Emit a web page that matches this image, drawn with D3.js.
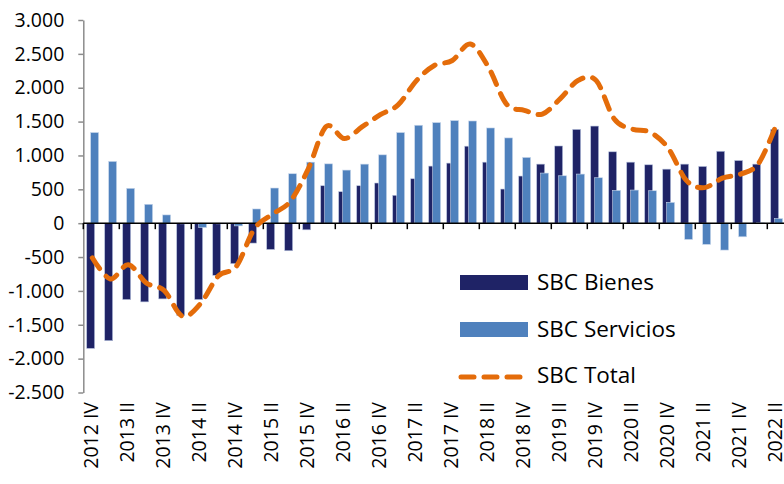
<!DOCTYPE html>
<html>
<head>
<meta charset="utf-8">
<script src="https://cdn.jsdelivr.net/npm/d3@7"></script>
<style>
  body { margin: 0; background: #fff; }
  text { font-family: "Open Sans", "Noto Sans", sans-serif; fill: #000; }
</style>
</head>
<body>
<svg id="chart" width="784" height="484"></svg>
<script>
// quarters shown on the x axis (only II and IV get a label)
const quarters = [
  "2012 IV",
  "2013 I", "2013 II", "2013 III", "2013 IV",
  "2014 I", "2014 II", "2014 III", "2014 IV",
  "2015 I", "2015 II", "2015 III", "2015 IV",
  "2016 I", "2016 II", "2016 III", "2016 IV",
  "2017 I", "2017 II", "2017 III", "2017 IV",
  "2018 I", "2018 II", "2018 III", "2018 IV",
  "2019 I", "2019 II", "2019 III", "2019 IV",
  "2020 I", "2020 II", "2020 III", "2020 IV",
  "2021 I", "2021 II", "2021 III", "2021 IV",
  "2022 I", "2022 II"
];

const bienes = [
  -1849, -1735, -1128, -1162, -1118, -1363, -1128, -770, -598, -294,
  -388, -407, -98, 553, 465, 553, 593, 412, 656, 843,
  887, 1137, 901, 504, 696, 872, 1140, 1385, 1434, 1054,
  901, 862, 798, 872, 838, 1062, 925, 872, 1385
];

const servicios = [
  1338, 912, 515, 279, 122, -10, -64, -10, -40, 210,
  519, 730, 901, 876, 784, 872, 1009, 1338, 1446, 1485,
  1515, 1509, 1406, 1259, 971, 740, 700, 725, 671, 484,
  489, 479, 307, -240, -313, -397, -201, 5, 68
];

const total = [
  -511, -823, -613, -883, -996, -1373, -1192, -780, -638, -84,
  131, 323, 803, 1429, 1249, 1425, 1602, 1750, 2102, 2328,
  2402, 2646, 2307, 1763, 1667, 1612, 1840, 2110, 2105, 1538,
  1390, 1341, 1105, 632, 525, 665, 724, 877, 1453
];

const yTicks = [-2500, -2000, -1500, -1000, -500, 0, 500, 1000, 1500, 2000, 2500, 3000];

const seriesNames = ["SBC Bienes", "SBC Servicios", "SBC Total"];
const colBienes = "#1f2366";
const colServicios = "#4f81bd";
const colTotal = "#e46c0a";

const svg = d3.select("#chart");

// spanish number format: 3.000, -2.500
const es = d3.formatLocale({ decimal: ",", thousands: ".", grouping: [3], currency: ["", ""], minus: "-" });
const fmt = es.format(",");

const left = 83.3, bandW = 18;
const x = d3.scaleBand()
  .domain(quarters)
  .range([left, left + bandW * quarters.length])
  .padding(0);

const y = d3.scaleLinear()
  .domain([-2500, 3000])
  .range([392.5, 20]);

// y axis (grey line, ticks to the left)
const yAxis = svg.append("g").attr("transform", `translate(${left},0)`)
  .call(d3.axisLeft(y).tickValues(yTicks).tickSize(5).tickSizeOuter(0).tickFormat(fmt));
yAxis.select(".domain").attr("stroke", "#8c8c8c").attr("stroke-width", 1.5);
yAxis.selectAll(".tick line").attr("stroke", "#8c8c8c").attr("stroke-width", 1.5);
yAxis.selectAll(".tick text")
  .attr("x", -19)
  .attr("font-size", 19.5)
  .attr("font-family", "Open Sans");

// bars
const bw = bandW * 0.44;
svg.append("g").selectAll("rect")
  .data(bienes)
  .join("rect")
  .attr("x", (d, i) => x(quarters[i]) + bandW * 0.19)
  .attr("width", bw)
  .attr("y", d => y(Math.max(0, d)))
  .attr("height", d => Math.abs(y(d) - y(0)))
  .attr("fill", colBienes)
  .attr("stroke", "#b8c4df")
  .attr("stroke-width", 0.6);

svg.append("g").selectAll("rect")
  .data(servicios)
  .join("rect")
  .attr("x", (d, i) => x(quarters[i]) + bandW * 0.41)
  .attr("width", bw)
  .attr("y", d => y(Math.max(0, d)))
  .attr("height", d => Math.abs(y(d) - y(0)))
  .attr("fill", colServicios)
  .attr("stroke", "#c9d7ec")
  .attr("stroke-width", 0.6);

// x axis on the zero line, tick every two quarters
const xAxisG = svg.append("g").attr("transform", `translate(0,${y(0)})`);
xAxisG.append("line")
  .attr("x1", left).attr("x2", x.range()[1])
  .attr("stroke", "#000").attr("stroke-width", 1.5);
xAxisG.selectAll("line.tk")
  .data(quarters.filter((q, i) => i % 2 === 0))
  .join("line")
  .attr("class", "tk")
  .attr("x1", d => x(d)).attr("x2", d => x(d))
  .attr("y1", 0).attr("y2", 6)
  .attr("stroke", "#000").attr("stroke-width", 1.5);

// rotated category labels under the plot
svg.append("g").selectAll("text")
  .data(quarters.filter(q => / (II|IV)$/.test(q)))
  .join("text")
  .attr("transform", d => `translate(${x(d) + bandW / 2 + 6},402) rotate(-90)`)
  .attr("text-anchor", "end")
  .attr("font-size", 19.5)
  .text(d => d);

// total line
const line = d3.line()
  .x((d, i) => x(quarters[i]) + bandW / 2)
  .y(d => y(d))
  .curve(d3.curveCatmullRom.alpha(0));

svg.append("path")
  .datum(total)
  .attr("d", line)
  .attr("fill", "none")
  .attr("stroke", colTotal)
  .attr("stroke-width", 5)
  .attr("stroke-dasharray", "13,10")
  .attr("stroke-linecap", "round");

// legend
const lg = svg.append("g");
lg.append("rect").attr("x", 460).attr("y", 275).attr("width", 68).attr("height", 15).attr("fill", colBienes);
lg.append("rect").attr("x", 460).attr("y", 322).attr("width", 68).attr("height", 15).attr("fill", colServicios);
lg.append("line")
  .attr("x1", 461).attr("x2", 522).attr("y1", 377).attr("y2", 377)
  .attr("stroke", colTotal).attr("stroke-width", 5)
  .attr("stroke-dasharray", "13,10").attr("stroke-linecap", "round");
[290, 336.7, 383.3].forEach((by, i) => {
  lg.append("text")
    .attr("x", 537).attr("y", by)
    .attr("font-size", 22.5)
    .text(seriesNames[i]);
});
</script>
</body>
</html>
